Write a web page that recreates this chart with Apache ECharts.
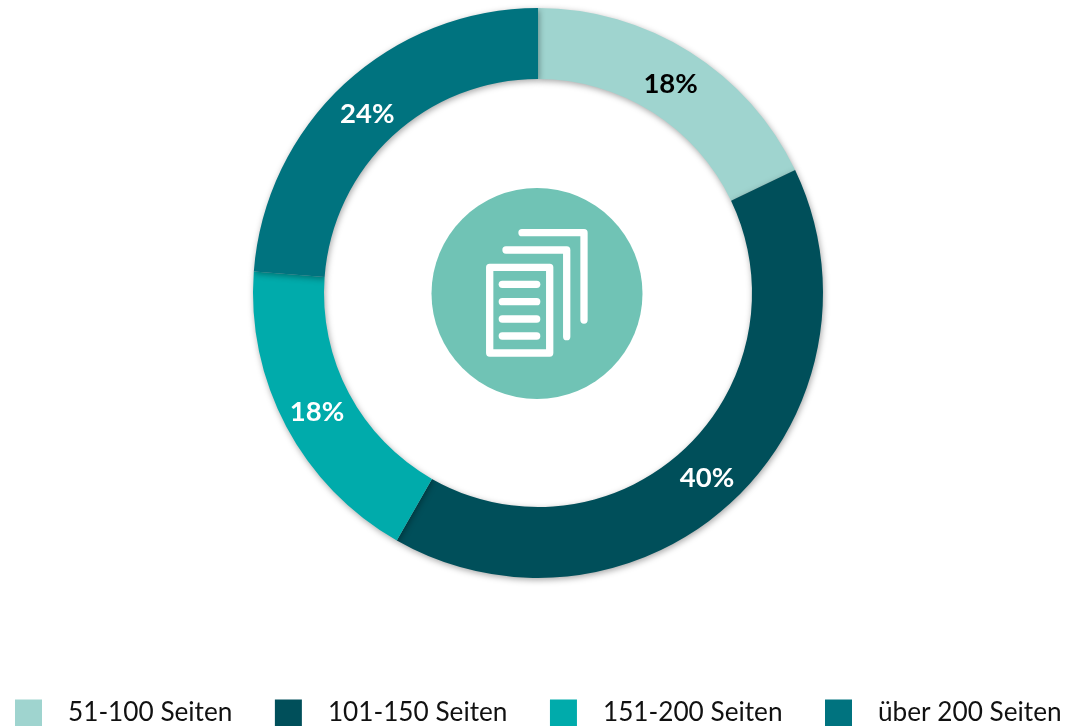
<!DOCTYPE html>
<html lang="de">

<head>
  <meta charset="UTF-8">
  <title>Seitenumfang</title>
  <script src="https://cdn.jsdelivr.net/npm/echarts@6/dist/echarts.min.js"></script>
  <style>
    html, body { margin: 0; padding: 0; background: #fff; }
    #chart { width: 1069px; height: 726px; }
  </style>
</head>

<body>
  <div id="chart"></div>
  <script>
    var categories = ['51-100 Seiten', '101-150 Seiten', '151-200 Seiten', 'über 200 Seiten'];
    var values = [17.9, 40.35, 17.95, 23.8];
    var colors = ['#9FD4CF', '#004F5A', '#00ABAB', '#00737F'];
    var labelColors = ['#000', '#fff', '#fff', '#fff'];
    var labelOffsets = [[-2, 5], [-3, 0], [2, 1], [1, 6]];
    var fontName = 'Lato, "Open Sans", sans-serif';

    var chart = echarts.init(document.getElementById('chart'), null, { renderer: 'canvas' });

    var data = [];
    for (var i = 0; i < categories.length; i++) {
      data.push({
        name: categories[i],
        value: values[i],
        itemStyle: { color: colors[i] },
        label: { color: labelColors[i], offset: labelOffsets[i] }
      });
    }

    // icon in the middle of the ring
    var iconLine = { stroke: '#fff', lineWidth: 7.3, lineCap: 'round', lineJoin: 'round', fill: null };
    var icon = [
      { type: 'circle', shape: { cx: 537, cy: 293.5, r: 105.5 }, style: { fill: '#70C3B5' } },
      { type: 'polyline', shape: { points: [[522, 232.7], [584, 232.7], [584, 320]] }, style: iconLine },
      { type: 'polyline', shape: { points: [[506, 250], [566.7, 250], [566.7, 336.7]] }, style: iconLine },
      { type: 'rect', shape: { x: 489.7, y: 267.3, width: 60, height: 85.7 }, style: iconLine }
    ];
    var rows = [284.3, 301.7, 319, 336];
    for (var r = 0; r < rows.length; r++) {
      icon.push({ type: 'line', shape: { x1: 502.3, y1: rows[r], x2: 536.7, y2: rows[r] }, style: iconLine });
    }

    chart.setOption({
      animation: false,
      backgroundColor: '#fff',
      legend: {
        data: categories,
        left: 15,
        top: 699.5,
        padding: 0,
        itemWidth: 27,
        itemHeight: 27,
        itemGap: 42.5,
        icon: 'rect',
        textStyle: {
          fontFamily: fontName,
          fontSize: 26.2,
          color: '#111',
          padding: [4, 0, 0, 21]
        }
      },
      graphic: icon,
      series: [{
        type: 'pie',
        center: [538, 293],
        radius: [214, 285],
        startAngle: 90,
        clockwise: true,
        data: data,
        itemStyle: {
          shadowBlur: 6,
          shadowColor: 'rgba(0,0,0,0.35)',
          shadowOffsetX: 1,
          shadowOffsetY: 2
        },
        label: {
          position: 'inside',
          formatter: function (p) { return Math.round(p.value) + '%'; },
          fontFamily: fontName,
          fontSize: 27.5,
          fontWeight: 'bold'
        },
        labelLine: { show: false },
        emphasis: { disabled: true }
      }]
    });
  </script>
</body>

</html>
